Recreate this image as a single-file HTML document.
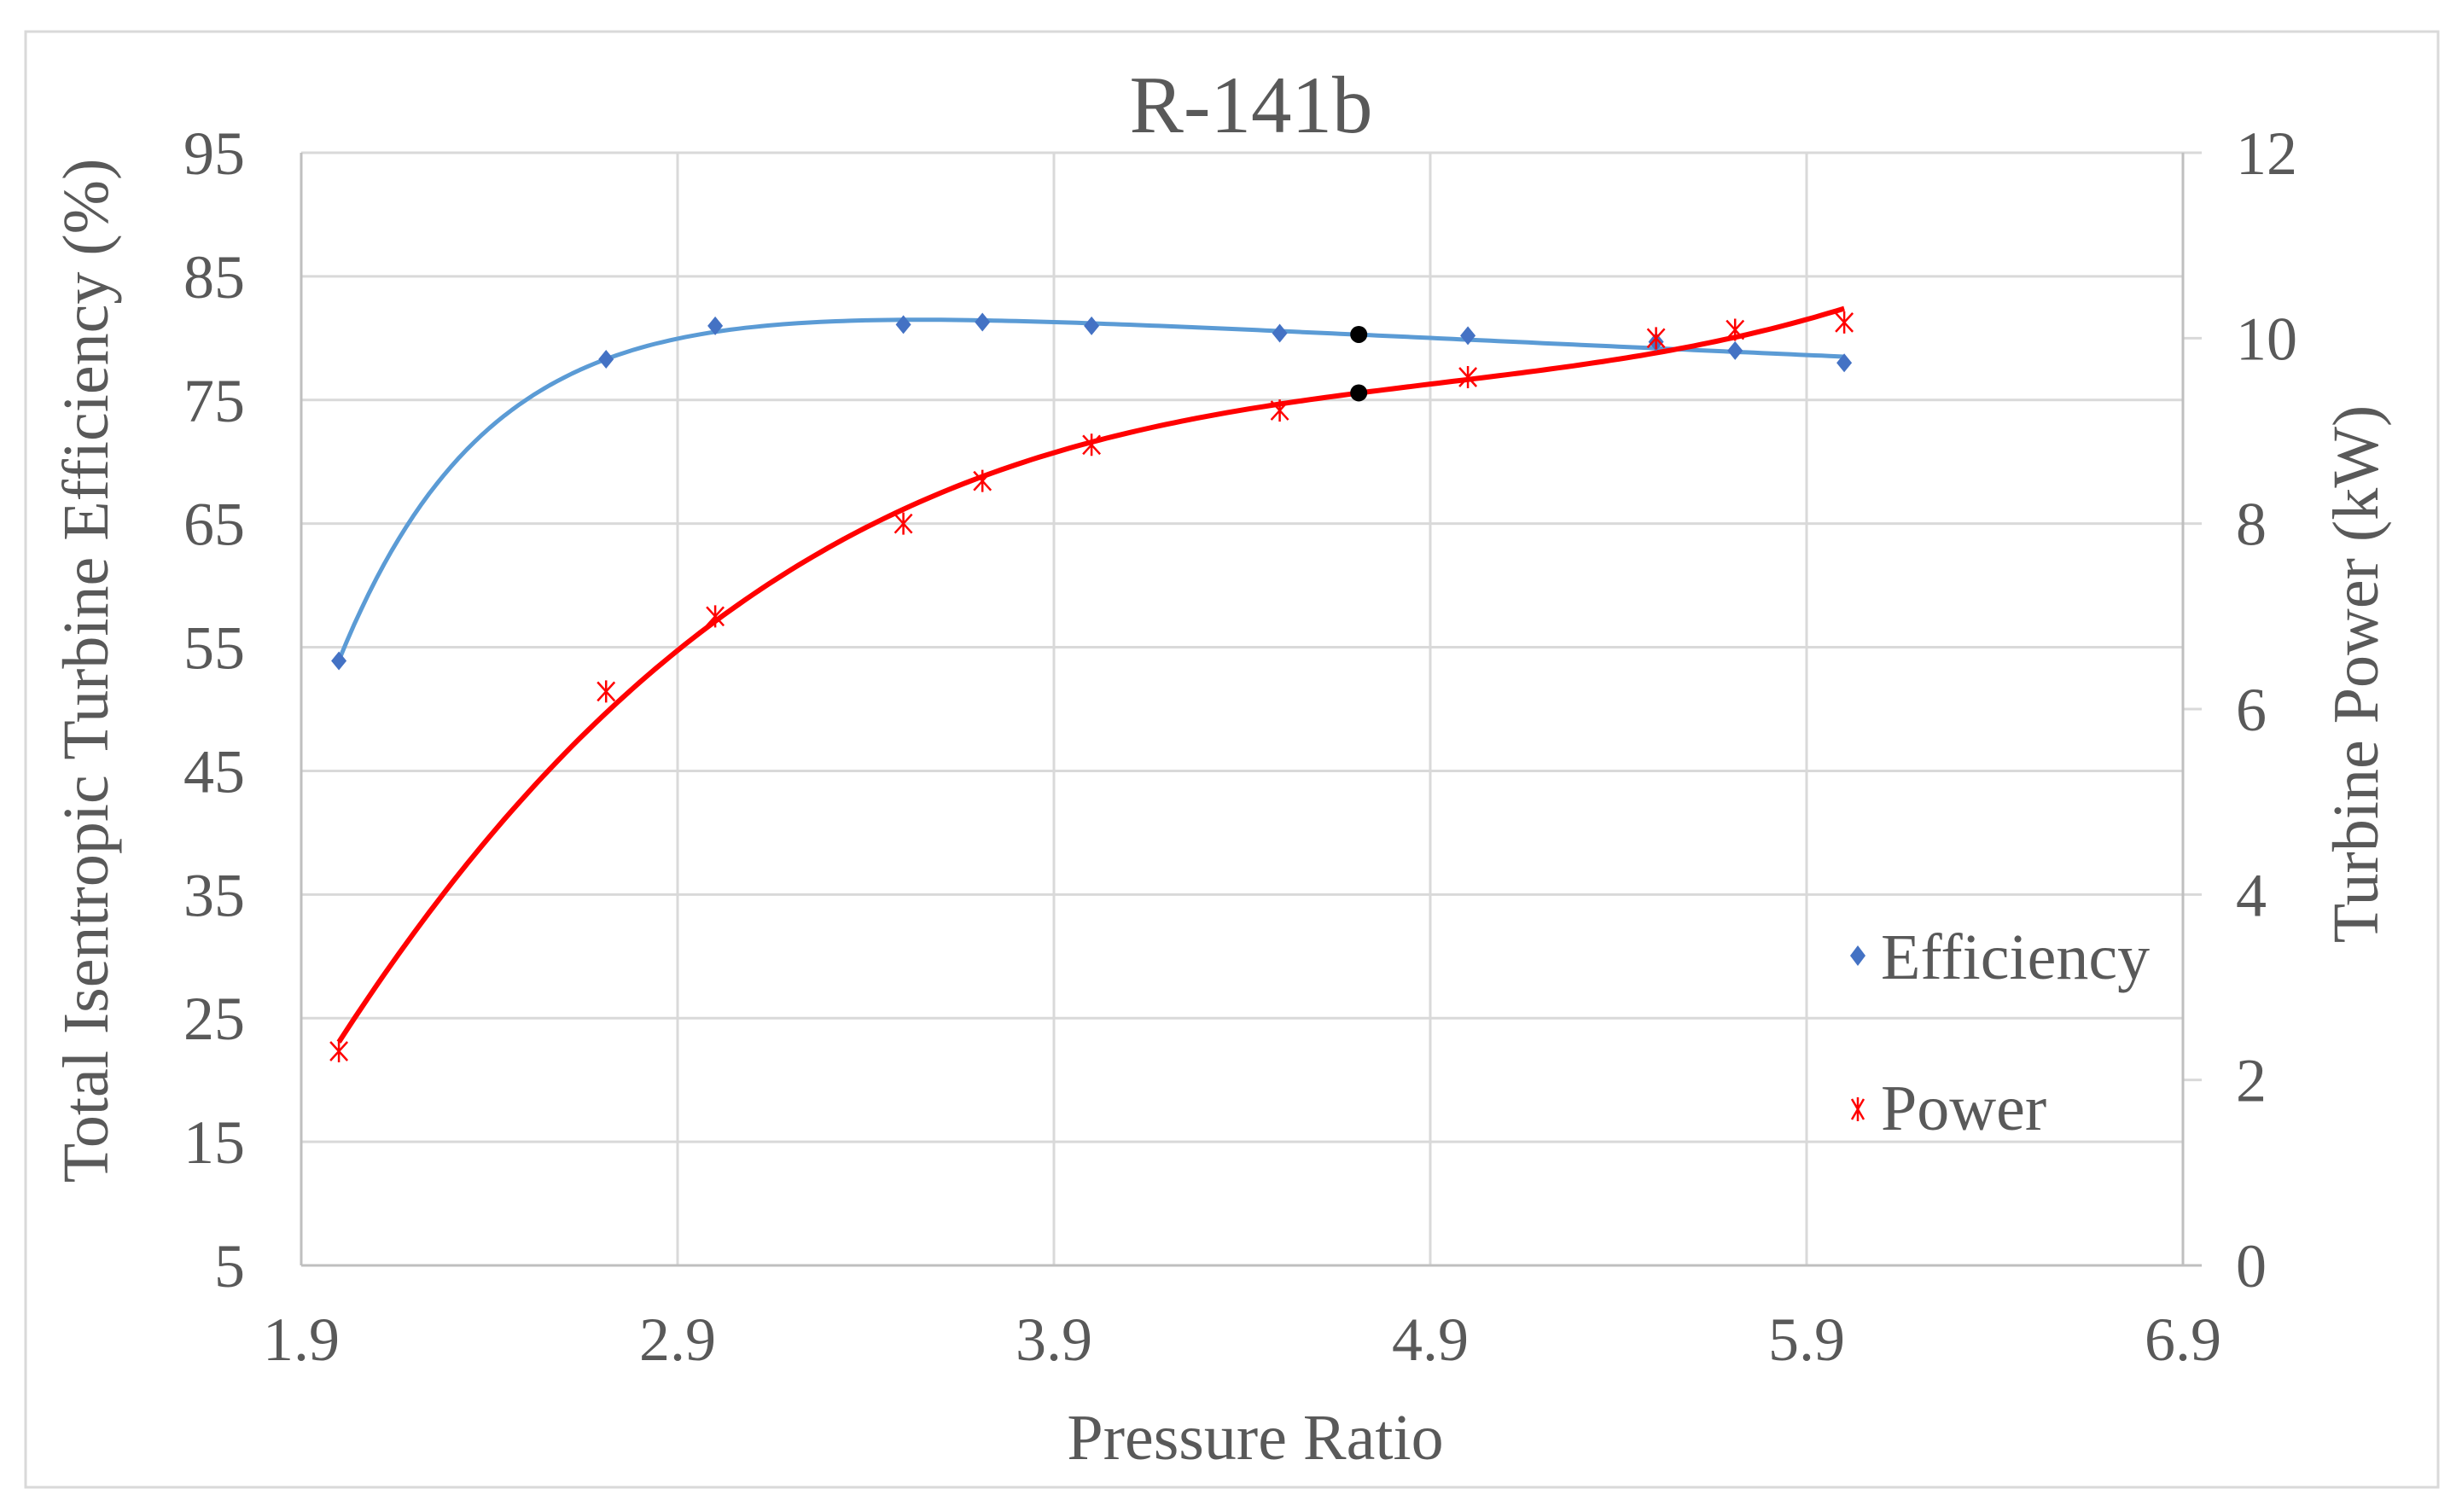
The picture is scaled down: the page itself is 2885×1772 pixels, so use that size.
<!DOCTYPE html>
<html><head><meta charset="utf-8"><style>
html,body{margin:0;padding:0;background:#fff;}
svg{display:block;}
text{font-family:"Liberation Serif",serif;fill:#595959;}
</style></head><body>
<svg id="chart" width="2885" height="1772" viewBox="0 0 2885 1772" xmlns="http://www.w3.org/2000/svg">
<rect x="30" y="37" width="2827" height="1706" fill="#fff" stroke="#d9d9d9" stroke-width="3"/>
<text x="1466" y="155" font-size="95" text-anchor="middle">R-141b</text>
<g id="grid"></g>
<g id="axes"></g>
<g id="series"></g>
<text x="1471" y="1710" font-size="76" text-anchor="middle">Pressure Ratio</text>
<text transform="translate(126,786) rotate(-90)" font-size="76" text-anchor="middle">Total Isentropic Turbine Efficiency (%)</text>
<text transform="translate(2786,790) rotate(-90)" font-size="76" text-anchor="middle">Turbine Power (kW)</text>
<g>
  <g>
    <path d="M2177,1108 L2186,1120 L2177,1132 L2168,1120 Z" fill="#4472c4"/>
    <text x="2204" y="1147" font-size="76">Efficiency</text>
  </g>
  <g>
    <path d="M2170,1288 L2184,1312 M2184,1288 L2170,1312 M2177,1286 L2177,1314" stroke="#ff0000" stroke-width="2.5"/>
    <text x="2204" y="1324" font-size="76">Power</text>
  </g>
</g>
</svg>
<script>
const pressureRatio = [2.0, 2.71, 3.0, 3.5, 3.71, 4.0, 4.5, 4.71, 5.0, 5.5, 5.71, 6.0];
const efficiency = [53.9, 78.3, 81.0, 81.1, 81.3, 81.0, 80.4, 80.3, 80.2, 79.7, 79.0, 78.0];
const power = [2.31, 6.19, 7.0, 8.0, 8.46, 8.85, 9.22, 9.41, 9.58, 10.0, 10.09, 10.17];
const highlightIndex = 7;
const xTicks = [1.9, 2.9, 3.9, 4.9, 5.9, 6.9];
const yLeftTicks = [5, 15, 25, 35, 45, 55, 65, 75, 85, 95];
const yRightTicks = [0, 2, 4, 6, 8, 10, 12];

const NS = "http://www.w3.org/2000/svg";
const L = 353, R = 2558, T = 179, B = 1483;
const xS = v => L + (v - 1.9) / 5 * (R - L);
const yL = v => B - (v - 5) / 90 * (B - T);
const yR = v => B - v / 12 * (B - T);
function mk(tag, attrs, parent) {
  const e = document.createElementNS(NS, tag);
  for (const k in attrs) e.setAttribute(k, attrs[k]);
  parent.appendChild(e);
  return e;
}
const grid = document.getElementById('grid'), axes = document.getElementById('axes'), ser = document.getElementById('series');

yLeftTicks.forEach(v => {
  const ln = mk('line', {x1: L, x2: R, y1: yL(v), y2: yL(v), stroke: '#d9d9d9', 'stroke-width': 3}, grid);
  
  
  const t = mk('text', {x: 287, y: yL(v) + 25, 'font-size': 72, 'text-anchor': 'end'}, axes);
  t.textContent = v;
  
  
});
xTicks.forEach(v => {
  const ln = mk('line', {x1: xS(v), x2: xS(v), y1: T, y2: B, stroke: '#d9d9d9', 'stroke-width': 3}, grid);
  
  
  const t = mk('text', {x: xS(v), y: 1594, 'font-size': 72, 'text-anchor': 'middle'}, axes);
  t.textContent = v.toFixed(1);
  
  
});
yRightTicks.forEach(v => {
  const tk = mk('line', {x1: R, x2: R + 22, y1: yR(v), y2: yR(v), stroke: '#d9d9d9', 'stroke-width': 3}, axes);
  
  
  const t = mk('text', {x: 2620, y: yR(v) + 25, 'font-size': 72}, axes);
  t.textContent = v;
  
  
});
const la = mk('line', {x1: L, x2: L, y1: T, y2: B, stroke: '#bfbfbf', 'stroke-width': 3}, axes);


const ra = mk('line', {x1: R, x2: R, y1: T, y2: B, stroke: '#bfbfbf', 'stroke-width': 3}, axes);


const ba = mk('line', {x1: L, x2: R + 22, y1: B, y2: B, stroke: '#bfbfbf', 'stroke-width': 3}, axes);



function lsq(xs, ys, basis) {
  const n = basis.length, A = [], b = [];
  for (let i = 0; i < n; i++) { A.push(new Array(n).fill(0)); b.push(0); }
  xs.forEach((x, k) => {
    const f = basis.map(g => g(x));
    for (let i = 0; i < n; i++) {
      b[i] += ys[k] * f[i];
      for (let j = 0; j < n; j++) A[i][j] += f[i] * f[j];
    }
  });
  for (let i = 0; i < n; i++) {
    let p = i;
    for (let r = i + 1; r < n; r++) if (Math.abs(A[r][i]) > Math.abs(A[p][i])) p = r;
    [A[i], A[p]] = [A[p], A[i]]; [b[i], b[p]] = [b[p], b[i]];
    for (let r = i + 1; r < n; r++) {
      const f = A[r][i] / A[i][i];
      for (let c = i; c < n; c++) A[r][c] -= f * A[i][c];
      b[r] -= f * b[i];
    }
  }
  const c = new Array(n).fill(0);
  for (let i = n - 1; i >= 0; i--) {
    let s = b[i];
    for (let j = i + 1; j < n; j++) s -= A[i][j] * c[j];
    c[i] = s / A[i][i];
  }
  return x => basis.reduce((s, g, i) => s + c[i] * g(x), 0);
}
const effBasis = [x => 1, x => x, x => x * x, x => Math.exp(-2.5 * (x - 2))];
const powBasis = [x => 1, x => x, x => x * x, x => x * x * x];
function trend(ys, basis, yfn, color, w, name) {
  const f = lsq(pressureRatio, ys, basis);
  const x0 = pressureRatio[0], x1 = pressureRatio[pressureRatio.length - 1];
  let d = '';
  for (let i = 0; i <= 200; i++) {
    const x = x0 + (x1 - x0) * i / 200;
    d += (i ? 'L' : 'M') + xS(x).toFixed(1) + ',' + yfn(f(x)).toFixed(1);
  }
  const p = mk('path', {d: d, fill: 'none', stroke: color, 'stroke-width': w, 'stroke-linejoin': 'round'}, ser);
  
  
}
trend(efficiency, effBasis, yL, '#5b9bd5', 5, 'efficiency-trendline');
trend(power, powBasis, yR, '#ff0000', 6, 'power-trendline');

pressureRatio.forEach((x, i) => {
  const cx = xS(x), ey = yL(efficiency[i]), py = yR(power[i]);
  if (i === highlightIndex) {
    const c1 = mk('circle', {cx: cx, cy: ey, r: 10, fill: '#000'}, ser);
    
    
    const c2 = mk('circle', {cx: cx, cy: py, r: 10, fill: '#000'}, ser);
    
    
    return;
  }
  const dm = mk('path', {d: `M${cx},${ey - 11} L${cx + 9},${ey} L${cx},${ey + 11} L${cx - 9},${ey} Z`, fill: '#4472c4'}, ser);
  
  
  const as = mk('path', {d: `M${cx - 10},${py - 11} L${cx + 10},${py + 11} M${cx + 10},${py - 11} L${cx - 10},${py + 11} M${cx},${py - 13} L${cx},${py + 13}`, stroke: '#ff0000', 'stroke-width': 2.5, fill: 'none'}, ser);
  
  
});
</script>
</body></html>
